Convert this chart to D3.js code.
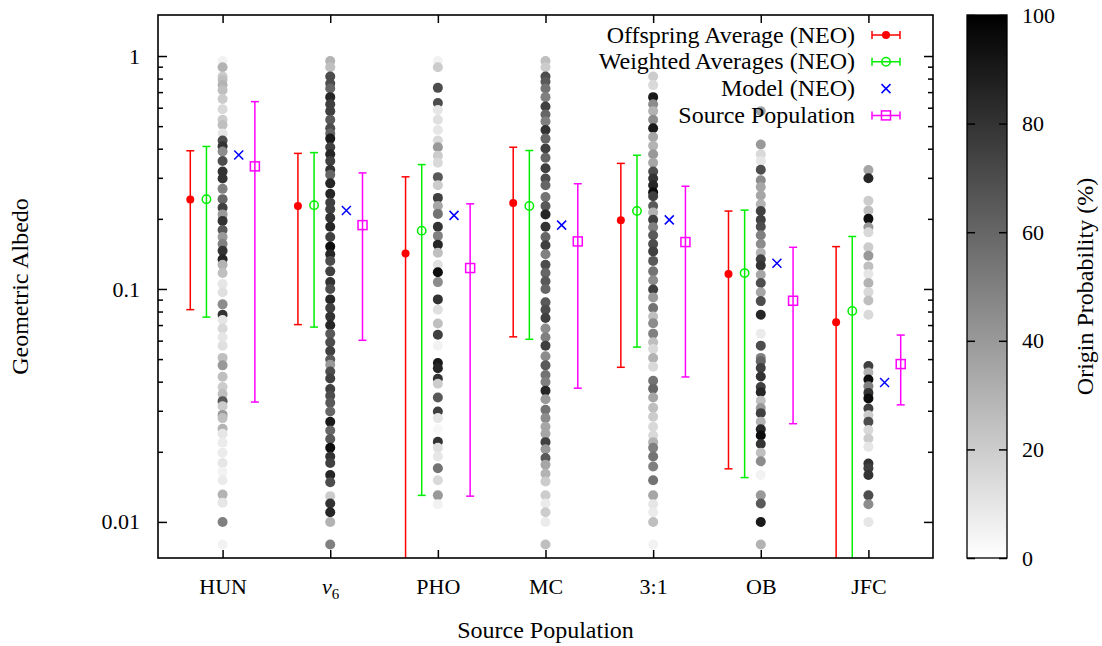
<!DOCTYPE html>
<html>
<head>
<meta charset="utf-8">
<script src="https://cdn.jsdelivr.net/npm/d3@7"></script>
<style>
  body { margin: 0; background: #fff; }
  text { font-family: "Liberation Serif", "Times New Roman", serif; font-size: 22px; fill: #000; }
  text.big { font-size: 24px; }
</style>
</head>
<body>
<div id="chart"></div>
<script>
// categories on the x axis
var categories = ["HUN", "ν6", "PHO", "MC", "3:1", "OB", "JFC"];

// Offspring Average (NEO) - red
var offAvg = [0.242, 0.227, 0.142, 0.234, 0.197, 0.116, 0.072];
var offHi  = [0.392, 0.382, 0.303, 0.406, 0.346, 0.216, 0.152];
var offLo  = [0.0815, 0.0703, 0.004, 0.0623, 0.0461, 0.0169, 0.004];

// Weighted Averages (NEO) - green
var wAvg = [0.243, 0.229, 0.178, 0.227, 0.216, 0.117, 0.0804];
var wHi  = [0.409, 0.385, 0.342, 0.393, 0.375, 0.218, 0.168];
var wLo  = [0.0757, 0.0686, 0.0130, 0.0608, 0.0563, 0.0155, 0.005];

// Model (NEO) - blue
var modelVal = [0.376, 0.217, 0.207, 0.188, 0.198, 0.129, 0.0397];

// Source Population - magenta
var srcAvg = [0.336, 0.188, 0.123, 0.160, 0.159, 0.0890, 0.0476];
var srcHi  = [0.637, 0.315, 0.232, 0.283, 0.276, 0.151, 0.0634];
var srcLo  = [0.0327, 0.0602, 0.0129, 0.0375, 0.0419, 0.0264, 0.0318];

// individual objects: [albedo, origin probability %]
var hunPts = [[0.952,5],[0.895,30],[0.817,20],[0.789,25],[0.750,30],[0.713,25],[0.654,20],[0.591,15],[0.533,20],[0.506,25],[0.465,10],[0.434,70],[0.410,80],[0.389,45],[0.354,70],[0.319,80],[0.298,80],[0.269,50],[0.243,60],[0.223,75],[0.209,40],[0.196,80],[0.179,65],[0.167,40],[0.156,50],[0.146,80],[0.134,85],[0.127,30],[0.117,25],[0.105,10],[0.0968,12],[0.0859,45],[0.0775,80],[0.0736,10],[0.0676,15],[0.0621,10],[0.0570,12],[0.0506,25],[0.0470,40],[0.0420,25],[0.0379,20],[0.0354,25],[0.0330,65],[0.0314,20],[0.0288,40],[0.0279,25],[0.0251,30],[0.0239,10],[0.0219,8],[0.0198,8],[0.0179,10],[0.0164,5],[0.0151,8],[0.0131,30],[0.0121,10],[0.0100,50],[0.0080,5]];
var nu6Pts = [[0.952,30],[0.895,25],[0.817,70],[0.762,70],[0.725,60],[0.666,85],[0.621,75],[0.580,75],[0.533,65],[0.490,70],[0.465,60],[0.442,90],[0.406,75],[0.379,85],[0.354,75],[0.325,80],[0.309,60],[0.284,85],[0.256,85],[0.235,75],[0.220,75],[0.202,80],[0.185,85],[0.167,75],[0.152,95],[0.141,85],[0.132,70],[0.119,75],[0.107,80],[0.100,70],[0.0902,85],[0.0828,75],[0.0761,80],[0.0699,85],[0.0642,65],[0.0590,70],[0.0542,75],[0.0498,65],[0.0473,40],[0.0442,70],[0.0413,75],[0.0372,75],[0.0348,70],[0.0325,65],[0.0298,60],[0.0269,90],[0.0247,60],[0.0227,65],[0.0208,95],[0.0191,80],[0.0179,75],[0.0159,85],[0.0148,70],[0.0129,20],[0.0120,80],[0.0110,85],[0.0100,30],[0.0080,50]];
var phoPts = [[0.952,5],[0.895,20],[0.730,70],[0.628,70],[0.586,10],[0.533,12],[0.481,10],[0.434,15],[0.406,40],[0.373,20],[0.348,15],[0.302,65],[0.279,20],[0.246,75],[0.227,35],[0.210,55],[0.185,80],[0.169,50],[0.155,85],[0.143,25],[0.127,12],[0.118,95],[0.107,45],[0.0902,80],[0.0814,12],[0.0711,25],[0.0636,75],[0.0570,5],[0.0481,90],[0.0457,85],[0.0412,80],[0.0392,20],[0.0342,65],[0.0298,75],[0.0279,10],[0.0250,3],[0.0221,80],[0.0208,12],[0.0191,10],[0.0170,55],[0.0151,15],[0.0130,40],[0.0119,5]];
var mcPts = [[0.952,25],[0.895,20],[0.817,70],[0.776,65],[0.725,55],[0.666,50],[0.607,75],[0.561,60],[0.524,50],[0.481,80],[0.442,60],[0.401,75],[0.366,60],[0.330,75],[0.298,70],[0.279,60],[0.248,55],[0.227,65],[0.209,85],[0.185,80],[0.167,60],[0.154,75],[0.141,50],[0.127,70],[0.117,60],[0.108,65],[0.100,60],[0.0876,65],[0.0814,70],[0.0750,75],[0.0676,45],[0.0621,50],[0.0571,75],[0.0514,45],[0.0470,65],[0.0427,55],[0.0399,50],[0.0366,85],[0.0336,40],[0.0303,55],[0.0279,45],[0.0256,35],[0.0239,35],[0.0220,75],[0.0205,40],[0.0188,65],[0.0176,35],[0.0161,30],[0.0149,20],[0.0130,20],[0.0120,8],[0.0110,20],[0.0100,8],[0.0080,25]];
var p31Pts = [[0.817,20],[0.750,15],[0.666,90],[0.621,45],[0.580,30],[0.533,45],[0.490,90],[0.449,35],[0.412,30],[0.379,40],[0.348,35],[0.319,70],[0.298,80],[0.279,85],[0.260,95],[0.250,75],[0.227,65],[0.213,30],[0.198,75],[0.184,50],[0.170,65],[0.156,70],[0.145,75],[0.132,65],[0.119,55],[0.109,45],[0.0995,75],[0.0920,40],[0.0829,55],[0.0761,25],[0.0712,45],[0.0643,50],[0.0591,25],[0.0552,15],[0.0505,30],[0.0464,15],[0.0404,55],[0.0373,60],[0.0342,35],[0.0309,25],[0.0283,20],[0.0256,15],[0.0235,15],[0.0220,30],[0.0208,50],[0.0191,55],[0.0173,50],[0.0151,55],[0.0130,35],[0.0119,10],[0.0110,8],[0.0100,25],[0.0080,5]];
var obPts = [[0.58,35],[0.417,40],[0.379,15],[0.354,10],[0.325,70],[0.293,45],[0.274,35],[0.252,35],[0.231,30],[0.216,75],[0.198,75],[0.185,70],[0.170,50],[0.156,45],[0.143,30],[0.134,75],[0.126,80],[0.115,35],[0.106,70],[0.0968,35],[0.0887,70],[0.0775,85],[0.0643,8],[0.0571,70],[0.0506,50],[0.0489,60],[0.0458,75],[0.0421,80],[0.0379,75],[0.0360,85],[0.0331,25],[0.0308,40],[0.0293,75],[0.0269,30],[0.0250,85],[0.0235,95],[0.0216,80],[0.0198,25],[0.0182,45],[0.0159,5],[0.0130,40],[0.0120,65],[0.0100,90],[0.0080,30]];
var jfcPts = [[0.324,35],[0.299,85],[0.239,20],[0.217,25],[0.200,95],[0.184,40],[0.175,15],[0.151,20],[0.139,40],[0.125,25],[0.116,10],[0.106,30],[0.0969,15],[0.0893,25],[0.0775,15],[0.0467,75],[0.0438,30],[0.0409,95],[0.0382,50],[0.0358,80],[0.0339,95],[0.0307,75],[0.0287,20],[0.0269,70],[0.0248,15],[0.0228,20],[0.0210,10],[0.0178,80],[0.0170,75],[0.0159,80],[0.0130,70],[0.0119,45],[0.00998,10]];

var scatterCols = [hunPts, nu6Pts, phoPts, mcPts, p31Pts, obPts, jfcPts];

var legendNames = ["Offspring Average (NEO)", "Weighted Averages (NEO)", "Model (NEO)", "Source Population"];
var yTicks = [0.01, 0.1, 1];
var cbTicks = [0, 20, 40, 60, 80, 100];

var svgWidth = 1102;
var svgHeight = 646;
var plot = {left: 158, right: 933, top: 15, bottom: 558};
var cb = {left: 967, right: 1007};

var svg = d3.select("#chart")
  .append("svg")
  .attr("width", svgWidth)
  .attr("height", svgHeight);

var xScale = d3.scaleLinear().domain([-0.6, 6.6]).range([plot.left, plot.right]);
var yScale = d3.scaleLog().domain([0.007, 1.5]).range([plot.bottom, plot.top]);
var greyScale = d3.scaleLinear().domain([0, 100]).range(["#ffffff", "#000000"]);
var cbScale = d3.scaleLinear().domain([0, 100]).range([plot.bottom, plot.top]);

var defs = svg.append("defs");
defs.append("clipPath").attr("id", "plotclip")
  .append("rect")
  .attr("x", plot.left).attr("y", plot.top)
  .attr("width", plot.right - plot.left).attr("height", plot.bottom - plot.top);

var grad = defs.append("linearGradient").attr("id", "cbgrad")
  .attr("x1", 0).attr("y1", 1).attr("x2", 0).attr("y2", 0);
cbTicks.forEach(function(t) {
  grad.append("stop").attr("offset", t / 100).attr("stop-color", greyScale(t));
});

var plotG = svg.append("g").attr("clip-path", "url(#plotclip)");

// grey scatter columns
scatterCols.forEach(function(pts, i) {
  plotG.append("g").selectAll("circle")
    .data(pts)
    .enter()
    .append("circle")
    .attr("cx", xScale(i))
    .attr("cy", d => yScale(d[0]))
    .attr("r", 5)
    .style("fill", d => greyScale(d[1]));
});

// vertical error bars with caps
function errorBars(avg, lo, hi, off, color) {
  var g = plotG.append("g").style("stroke", color).style("stroke-width", 1.5);
  g.selectAll(".bar").data(avg).enter().append("line")
    .attr("x1", (d, i) => xScale(i + off)).attr("x2", (d, i) => xScale(i + off))
    .attr("y1", (d, i) => yScale(hi[i])).attr("y2", (d, i) => yScale(lo[i]));
  [hi, lo].forEach(function(arr) {
    g.selectAll(".cap").data(arr).enter().append("line")
      .attr("x1", (d, i) => xScale(i + off) - 4).attr("x2", (d, i) => xScale(i + off) + 4)
      .attr("y1", d => yScale(d)).attr("y2", d => yScale(d));
  });
}

errorBars(offAvg, offLo, offHi, -0.3, "#ff0000");
errorBars(wAvg, wLo, wHi, -0.15, "#00ee00");
errorBars(srcAvg, srcLo, srcHi, 0.3, "#ff00ff");

plotG.selectAll(".offpt").data(offAvg).enter().append("circle")
  .attr("cx", (d, i) => xScale(i - 0.3)).attr("cy", d => yScale(d))
  .attr("r", 4).style("fill", "#ff0000");

plotG.selectAll(".wpt").data(wAvg).enter().append("circle")
  .attr("cx", (d, i) => xScale(i - 0.15)).attr("cy", d => yScale(d))
  .attr("r", 4.2).style("fill", "none").style("stroke", "#00ee00").style("stroke-width", 1.5);

plotG.selectAll(".mpt").data(modelVal).enter().append("path")
  .attr("transform", (d, i) => `translate(${xScale(i + 0.15)},${yScale(d)})`)
  .attr("d", "M-4.5,-4.5L4.5,4.5M-4.5,4.5L4.5,-4.5")
  .style("stroke", "#0000ff").style("stroke-width", 1.5);

plotG.selectAll(".spt").data(srcAvg).enter().append("rect")
  .attr("x", (d, i) => xScale(i + 0.3) - 4.5).attr("y", d => yScale(d) - 4.5)
  .attr("width", 9).attr("height", 9)
  .style("fill", "none").style("stroke", "#ff00ff").style("stroke-width", 1.5);

// axes (ticks point inward, mirrored)
function cleanAxis(g) {
  g.select(".domain").remove();
  g.selectAll("line").style("stroke-width", 1.5);
}

var minorTicks = [];
[0.01, 0.1].forEach(function(dec) {
  d3.range(2, 10).forEach(function(m) { minorTicks.push(dec * m); });
});

svg.append("g")
  .attr("transform", `translate(${plot.left},0)`)
  .call(d3.axisLeft(yScale).tickValues(yTicks).tickFormat(d => d + "").tickSizeInner(-9).tickSizeOuter(0).tickPadding(18))
  .call(cleanAxis);
svg.append("g")
  .attr("transform", `translate(${plot.left},0)`)
  .call(d3.axisLeft(yScale).tickValues(minorTicks).tickFormat("").tickSizeInner(-5).tickSizeOuter(0))
  .call(cleanAxis);
svg.append("g")
  .attr("transform", `translate(${plot.right},0)`)
  .call(d3.axisRight(yScale).tickValues(yTicks).tickFormat("").tickSizeInner(-9).tickSizeOuter(0))
  .call(cleanAxis);
svg.append("g")
  .attr("transform", `translate(${plot.right},0)`)
  .call(d3.axisRight(yScale).tickValues(minorTicks).tickFormat("").tickSizeInner(-5).tickSizeOuter(0))
  .call(cleanAxis);

var xAxisG = svg.append("g")
  .attr("transform", `translate(0,${plot.bottom})`)
  .call(d3.axisBottom(xScale).tickValues(d3.range(categories.length)).tickFormat(i => categories[i]).tickSizeInner(-8).tickSizeOuter(0).tickPadding(20))
  .call(cleanAxis);
svg.append("g")
  .attr("transform", `translate(0,${plot.top})`)
  .call(d3.axisTop(xScale).tickValues(d3.range(categories.length)).tickFormat("").tickSizeInner(-8).tickSizeOuter(0))
  .call(cleanAxis);

// nu_6 with subscript
xAxisG.selectAll(".tick text").filter(d => d === 1).each(function() {
  var t = d3.select(this).text("");
  t.append("tspan").text("ν").style("font-style", "italic");
  t.append("tspan").text("6").attr("dy", 5).style("font-size", "15px");
});

svg.append("rect")
  .attr("x", plot.left).attr("y", plot.top)
  .attr("width", plot.right - plot.left).attr("height", plot.bottom - plot.top)
  .style("fill", "none").style("stroke", "#000").style("stroke-width", 1.6);

// legend
var legendColors = ["#ff0000", "#00ee00", "#0000ff", "#ff00ff"];
var legend = svg.append("g");
legendNames.forEach(function(name, k) {
  var ly = 35 + k * 26.8;
  legend.append("text")
    .attr("class", "big")
    .attr("x", 855).attr("y", ly).attr("dy", "0.32em")
    .attr("text-anchor", "end")
    .text(name);
  var c = legendColors[k];
  if (k !== 2) {
    legend.append("path")
      .attr("d", `M872,${ly}H900M872,${ly - 4}V${ly + 4}M900,${ly - 4}V${ly + 4}`)
      .style("stroke", c).style("stroke-width", 1.5).style("fill", "none");
  }
  if (k === 0) {
    legend.append("circle").attr("cx", 886).attr("cy", ly).attr("r", 4).style("fill", c);
  } else if (k === 1) {
    legend.append("circle").attr("cx", 886).attr("cy", ly).attr("r", 4.2)
      .style("fill", "none").style("stroke", c).style("stroke-width", 1.5);
  } else if (k === 2) {
    legend.append("path").attr("transform", `translate(886,${ly})`)
      .attr("d", "M-4.5,-4.5L4.5,4.5M-4.5,4.5L4.5,-4.5")
      .style("stroke", c).style("stroke-width", 1.5);
  } else {
    legend.append("rect").attr("x", 881.5).attr("y", ly - 4.5).attr("width", 9).attr("height", 9)
      .style("fill", "none").style("stroke", c).style("stroke-width", 1.5);
  }
});

// colour bar
svg.append("rect")
  .attr("x", cb.left).attr("y", plot.top)
  .attr("width", cb.right - cb.left).attr("height", plot.bottom - plot.top)
  .style("fill", "url(#cbgrad)").style("stroke", "#000").style("stroke-width", 1.3);

svg.append("g")
  .attr("transform", `translate(${cb.right},0)`)
  .call(d3.axisRight(cbScale).tickValues(cbTicks).tickSizeInner(-8).tickSizeOuter(0).tickPadding(15))
  .call(cleanAxis);
svg.append("g")
  .attr("transform", `translate(${cb.left},0)`)
  .call(d3.axisLeft(cbScale).tickValues(cbTicks).tickFormat("").tickSizeInner(-8).tickSizeOuter(0))
  .call(cleanAxis);

// axis titles
svg.append("text")
  .attr("class", "big")
  .attr("x", (plot.left + plot.right) / 2).attr("y", 638)
  .attr("text-anchor", "middle")
  .text("Source Population");

svg.append("text")
  .attr("class", "big")
  .attr("transform", `translate(28,${(plot.top + plot.bottom) / 2}) rotate(-90)`)
  .attr("text-anchor", "middle")
  .text("Geometric Albedo");

svg.append("text")
  .attr("class", "big")
  .attr("transform", `translate(1093,${(plot.top + plot.bottom) / 2}) rotate(-90)`)
  .attr("text-anchor", "middle")
  .text("Origin Probability (%)");
</script>
</body>
</html>
